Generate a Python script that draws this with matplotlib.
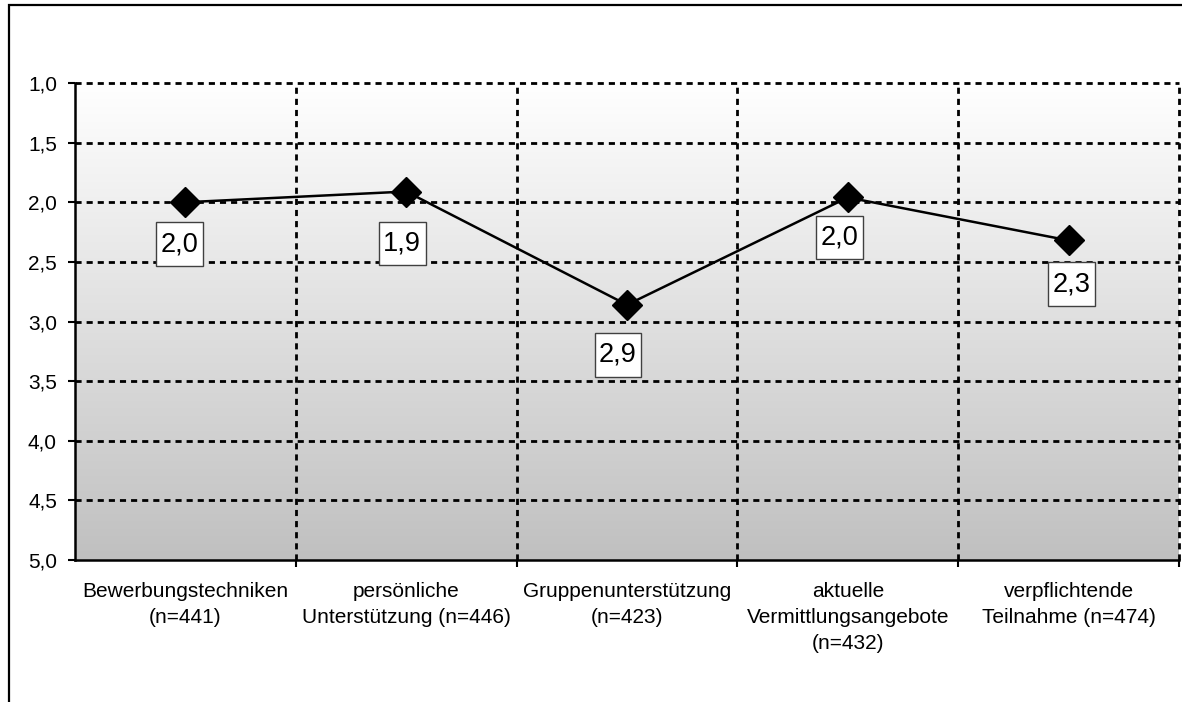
import numpy as np
import matplotlib
matplotlib.use("Agg")
import matplotlib.pyplot as plt
from matplotlib.patches import Rectangle
from matplotlib.path import Path

plt.rcParams['font.family'] = ['Liberation Sans', 'DejaVu Sans']

# Mean ratings (1 = best, 5 = worst) per support measure
categories = [
    "Bewerbungstechniken\n(n=441)",
    "persönliche\nUnterstützung (n=446)",
    "Gruppenunterstützung\n(n=423)",
    "aktuelle\nVermittlungsangebote\n(n=432)",
    "verpflichtende\nTeilnahme (n=474)",
]
values = [2.00, 1.91, 2.86, 1.96, 2.32]
y_ticks = [1.0, 1.5, 2.0, 2.5, 3.0, 3.5, 4.0, 4.5, 5.0]
y_tick_labels = [f"{t:.1f}".replace(".", ",") for t in y_ticks]

# value-label offsets in pixels (dx, dy)
label_offsets = [(-6, -42), (-4, -52), (-9, -50), (-8, -40), (3, -44)]


def tall_box(x0, y0, width, height, mutation_size):
    """Square label box with more vertical than horizontal padding."""
    px, py = 0.17 * mutation_size, 0.33 * mutation_size
    x0, y0 = x0 - px, y0 - py
    x1, y1 = x0 + width + 2 * px, y0 + height + 2 * py
    return Path([(x0, y0), (x1, y0), (x1, y1), (x0, y1), (x0, y0)],
                closed=True)


W, H = 1182, 702
fig = plt.figure(figsize=(W / 100, H / 100), dpi=100)
fig.patch.set_facecolor("white")

# outer frame of the chart object
fig.add_artist(Rectangle((9 / W, -0.05), 1.2, 0.05 + (H - 5) / H,
                         transform=fig.transFigure, fill=False,
                         edgecolor="black", linewidth=1.6, zorder=0))

ax = fig.add_axes([75 / W, (H - 560) / H, (1179 - 75) / W, (560 - 83) / H])
n = len(categories)
x = np.arange(n)
ax.set_xlim(-0.5, n - 0.5)
ax.set_ylim(5.0, 1.0)

# vertical white-to-grey gradient background
grad = np.linspace(0, 1, 256).reshape(-1, 1)
ax.imshow(grad, cmap=matplotlib.colors.LinearSegmentedColormap.from_list(
    "bg", ["#ffffff", "#c0c0c0"]), aspect="auto",
    extent=(-0.5, n - 0.5, 5.0, 1.0), origin="upper", zorder=0)

dash = (0, (2.2, 1.8))
for t in y_ticks[:-1]:
    ax.axhline(t, color="black", linewidth=2.0, linestyle=dash, zorder=1,
               clip_on=False)
for b in np.arange(0.5, n, 1.0):
    ax.axvline(b, color="black", linewidth=2.0, linestyle=dash, zorder=1,
               clip_on=False)

ax.plot(x, values, color="black", linewidth=1.8, marker="D",
        markersize=15, markerfacecolor="black", markeredgecolor="black",
        zorder=3, clip_on=False)

for xi, v, (dx, dy) in zip(x, values, label_offsets):
    ax.annotate(f"{v:.1f}".replace(".", ","), (xi, v),
                xytext=(dx, dy), textcoords="offset pixels",
                ha="center", va="center", fontsize=19.5, zorder=4,
                bbox=dict(boxstyle=tall_box, facecolor="white",
                          edgecolor="#404040", linewidth=1.0))

for side in ["top", "right"]:
    ax.spines[side].set_visible(False)
for side in ["left", "bottom"]:
    ax.spines[side].set_linewidth(1.8)
    ax.spines[side].set_zorder(5)

ax.set_yticks(y_ticks)
ax.set_yticklabels(y_tick_labels, fontsize=15)
ax.tick_params(axis="y", direction="out", length=5, width=1.5, pad=8)

ax.set_xticks(x)
ax.set_xticklabels(categories, fontsize=15, linespacing=1.45)
ax.tick_params(axis="x", which="major", length=0, pad=16)
ax.set_xticks(np.arange(0.5, n, 1.0), minor=True)
ax.tick_params(axis="x", which="minor", direction="out", length=5, width=1.5)

fig.savefig("out.png", dpi=100)
